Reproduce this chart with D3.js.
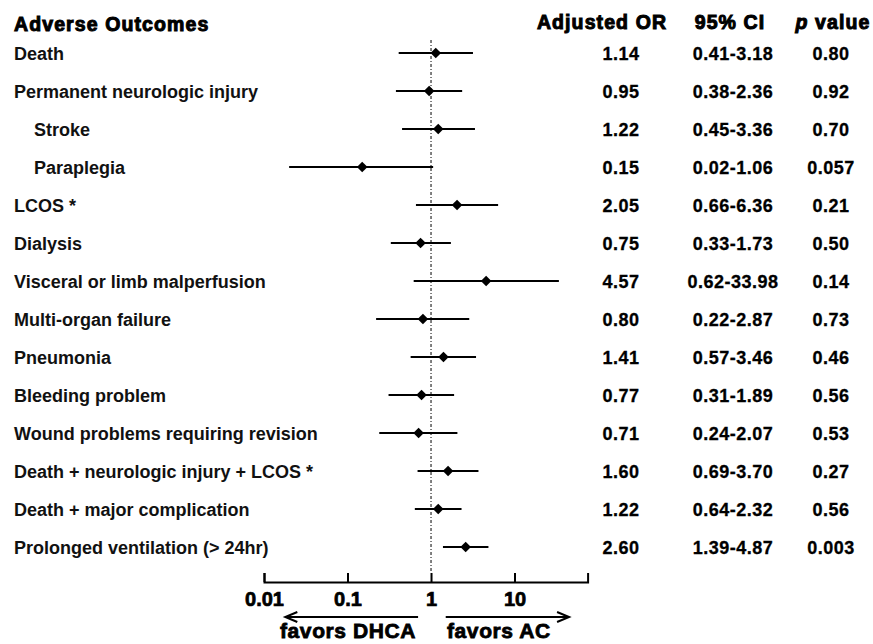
<!DOCTYPE html>
<html>
<head>
<meta charset="utf-8">
<script src="https://cdn.jsdelivr.net/npm/d3@7"></script>
<style>
  html, body { margin: 0; padding: 0; background: #fff; }
  svg { display: block; font-family: "Liberation Sans", Arial, sans-serif; }
</style>
</head>
<body>
<svg id="chart" width="873" height="644"></svg>
<script>
const outcomes = [
  "Death", "Permanent neurologic injury", "Stroke", "Paraplegia", "LCOS *",
  "Dialysis", "Visceral or limb malperfusion", "Multi-organ failure", "Pneumonia",
  "Bleeding problem", "Wound problems requiring revision",
  "Death + neurologic injury + LCOS *", "Death + major complication",
  "Prolonged ventilation (> 24hr)"
];
const indented = [false, false, true, true, false, false, false, false, false, false, false, false, false, false];
const oddsRatio = [1.14, 0.95, 1.22, 0.15, 2.05, 0.75, 4.57, 0.80, 1.41, 0.77, 0.71, 1.60, 1.22, 2.60];
const ciLow     = [0.41, 0.38, 0.45, 0.02, 0.66, 0.33, 0.62, 0.22, 0.57, 0.31, 0.24, 0.69, 0.64, 1.39];
const ciHigh    = [3.18, 2.36, 3.36, 1.06, 6.36, 1.73, 33.98, 2.87, 3.46, 1.89, 2.07, 3.70, 2.32, 4.87];
const pValues   = ["0.80", "0.92", "0.70", "0.057", "0.21", "0.50", "0.14", "0.73", "0.46", "0.56", "0.53", "0.27", "0.56", "0.003"];
const tickValues = [0.01, 0.1, 1, 10];
const tickLabels = ["0.01", "0.1", "1", "10"];
const headers = ["Adverse Outcomes", "Adjusted OR", "95% CI", "value"];
const favorLabels = ["favors DHCA", "favors AC"];

const svg = d3.select("#chart");
const fmt = d3.format(".2f");

const x = d3.scaleLog().domain([0.01, 75]).range([264, 587.6]);
const y = d3.scalePoint().domain(d3.range(outcomes.length)).range([53, 547]);

const colOR = 621, colCI = 733, colP = 831;
const axisY = 582;

// header
const headStyle = s => s.attr("font-size", 19.5).attr("font-weight", "bold")
  .attr("letter-spacing", 1.1).attr("fill", "#000")
  .attr("stroke", "#000").attr("stroke-width", 1.0);
svg.append("text").attr("x", 14).attr("y", 31).text(headers[0]).call(headStyle);
svg.append("text").attr("x", 602).attr("y", 29).attr("text-anchor", "middle").text(headers[1]).call(headStyle);
svg.append("text").attr("x", 730).attr("y", 29).attr("text-anchor", "middle").text(headers[2]).call(headStyle);
const ph = svg.append("text").attr("x", 833).attr("y", 29).attr("text-anchor", "middle").call(headStyle);
ph.append("tspan").attr("font-style", "italic").text("p");
ph.append("tspan").text(" " + headers[3]);

// reference line at OR = 1
svg.append("line")
  .attr("x1", x(1)).attr("x2", x(1)).attr("y1", 40).attr("y2", 572)
  .attr("stroke", "#000").attr("stroke-width", 1)
  .attr("stroke-dasharray", "3,2,1,2");

const rows = svg.append("g").selectAll("g").data(outcomes).join("g");

rows.append("text")
  .attr("x", (d, i) => indented[i] ? 34 : 14)
  .attr("y", (d, i) => y(i) + 7)
  .attr("font-size", 18).attr("font-weight", "bold").attr("fill", "#111")
  .text(d => d);

rows.append("line")
  .attr("x1", (d, i) => x(ciLow[i])).attr("x2", (d, i) => x(ciHigh[i]))
  .attr("y1", (d, i) => y(i)).attr("y2", (d, i) => y(i))
  .attr("stroke", "#000").attr("stroke-width", 2);

rows.append("path")
  .attr("d", d3.symbol(d3.symbolSquare, 56)())
  .attr("transform", (d, i) => `translate(${x(oddsRatio[i])},${y(i)}) rotate(45)`)
  .attr("fill", "#000");

const valStyle = s => s.attr("font-size", 18).attr("font-weight", "bold")
  .attr("letter-spacing", 0.5).attr("text-anchor", "middle").attr("fill", "#000")
  .attr("stroke", "#000").attr("stroke-width", 0.3);
rows.append("text").attr("x", colOR).attr("y", (d, i) => y(i) + 7)
  .text((d, i) => fmt(oddsRatio[i])).call(valStyle);
rows.append("text").attr("x", colCI).attr("y", (d, i) => y(i) + 7)
  .text((d, i) => fmt(ciLow[i]) + "-" + fmt(ciHigh[i])).call(valStyle);
rows.append("text").attr("x", colP).attr("y", (d, i) => y(i) + 7)
  .text((d, i) => pValues[i]).call(valStyle);

// axis
const axis = d3.axisBottom(x)
  .tickValues(tickValues)
  .tickFormat((d, i) => tickLabels[i])
  .tickSizeInner(-9).tickSizeOuter(-9).tickPadding(10);
const ga = svg.append("g").attr("transform", `translate(0,${axisY})`).call(axis);
ga.select(".domain").attr("stroke", "#000").attr("stroke-width", 2);
ga.selectAll(".tick line").attr("stroke", "#000").attr("stroke-width", 2);
ga.selectAll(".tick text").attr("font-size", 20).attr("font-weight", "bold")
  .attr("font-family", "Liberation Sans, Arial, sans-serif").attr("fill", "#000")
  .attr("stroke", "#000").attr("stroke-width", 0.7);

// direction arrows
const arrowY = 617;
function arrow(x1, x2) {
  const dir = Math.sign(x2 - x1);
  const g = svg.append("g").attr("stroke", "#000").attr("stroke-width", 2).attr("fill", "none");
  g.append("line").attr("x1", x1).attr("x2", x2).attr("y1", arrowY).attr("y2", arrowY);
  g.append("path").attr("d", `M${x2 - dir * 12},${arrowY - 5}L${x2},${arrowY}L${x2 - dir * 12},${arrowY + 5}`);
}
arrow(x(0.7), x(0.018));
arrow(x(1.5), x(45));

const favStyle = s => s.attr("font-size", 21).attr("font-weight", "bold").attr("fill", "#000")
  .attr("stroke", "#000").attr("stroke-width", 0.8).attr("letter-spacing", 0.6);
svg.append("text").attr("x", 280).attr("y", 638).text(favorLabels[0]).call(favStyle);
svg.append("text").attr("x", 447).attr("y", 638).text(favorLabels[1]).call(favStyle);
</script>
</body>
</html>
